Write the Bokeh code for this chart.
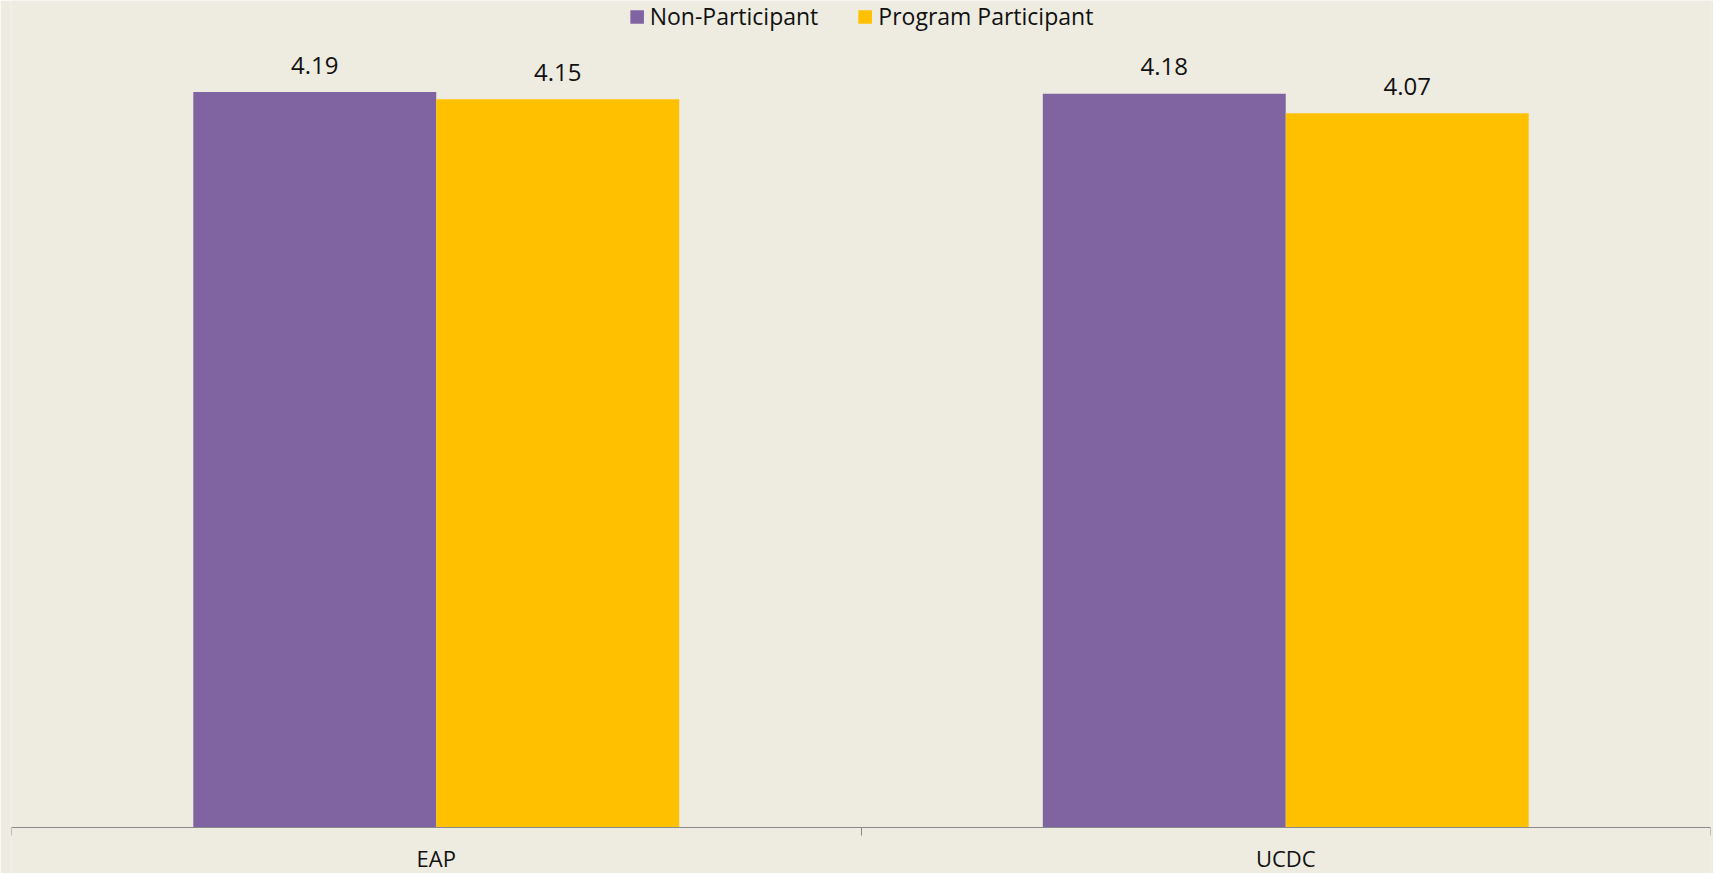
from bokeh.plotting import figure
from bokeh.models import ColumnDataSource, FixedTicker, LabelSet, Legend, LegendItem, Range1d
from bokeh.embed import file_html
from bokeh.resources import INLINE
from bokeh.core.properties import value
import numpy as np

# ---- data ----
categories = ["EAP", "UCDC"]
series_names = ["Non-Participant", "Program Participant"]
non_participant = [4.19, 4.18]
program_participant = [4.15, 4.07]

# ---- style ----
colors = ["#8064A2", "#FFC000"]
bg = "#EEECE1"
axis_gray = "#898989"
font = "Open Sans"
bar_w = 0.286
half = bar_w / 2

x_centers = np.arange(len(categories)) + 0.5
src = ColumnDataSource(dict(
    x=x_centers,
    x_np=x_centers - half,
    x_pp=x_centers + half,
    np_v=non_participant,
    pp_v=program_participant,
    np_lbl=[f"{v:.2f}" for v in non_participant],
    pp_lbl=[f"{v:.2f}" for v in program_participant],
))

p = figure(width=1713, height=873, output_backend="svg", toolbar_location=None,
           x_range=Range1d(0, len(categories)), y_range=Range1d(-0.262, 4.712),
           y_axis_location=None,
           min_border_left=11, min_border_right=3, min_border_top=0, min_border_bottom=0)
p.background_fill_color = bg
p.border_fill_color = bg
p.outline_line_color = None
p.grid.visible = False

ax = p.xaxis[0]
ax.fixed_location = 0
ax.ticker = FixedTicker(ticks=list(x_centers), minor_ticks=list(range(len(categories) + 1)))
ax.major_label_overrides = {float(xc): c for xc, c in zip(x_centers, categories)}
ax.axis_line_color = axis_gray
ax.axis_line_width = 1
ax.major_tick_line_color = None
ax.major_tick_out = 0
ax.major_tick_in = 0
ax.minor_tick_line_color = axis_gray
ax.minor_tick_out = 8
ax.minor_tick_in = 0
ax.major_label_standoff = 7
ax.major_label_text_font = font
ax.major_label_text_font_size = "22px"
ax.major_label_text_color = "#111111"

r1 = p.vbar(x="x_np", top="np_v", width=bar_w, source=src, fill_color=colors[0], line_color=None)
r2 = p.vbar(x="x_pp", top="pp_v", width=bar_w, source=src, fill_color=colors[1], line_color=None)

for xc, yc, tc in (("x_np", "np_v", "np_lbl"), ("x_pp", "pp_v", "pp_lbl")):
    p.add_layout(LabelSet(x=xc, y=yc, text=tc, source=src, y_offset=27,
                          text_align="center", text_baseline="middle",
                          text_font=value(font), text_font_size="24px", text_color="#111111"))

legend = Legend(items=[LegendItem(label=series_names[0], renderers=[r1]),
                       LegendItem(label=series_names[1], renderers=[r2])],
                orientation="horizontal", location="top_center",
                glyph_width=17, glyph_height=17, label_standoff=5, spacing=38,
                padding=4, margin=0, border_line_color=None, background_fill_alpha=0,
                label_text_font=font, label_text_font_size="23px", label_text_color="#111111")
p.add_layout(legend)

open("out.html", "w").write(file_html(p, INLINE))
